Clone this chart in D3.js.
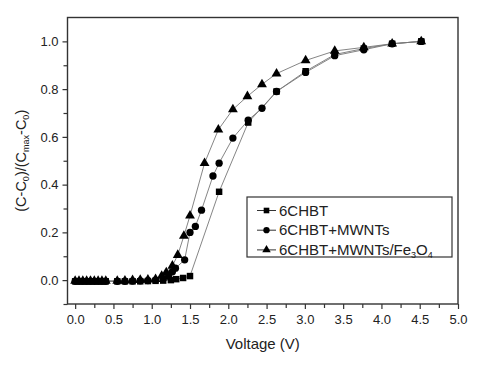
<!DOCTYPE html>
<html>
<head>
<meta charset="utf-8">
<script src="https://cdn.jsdelivr.net/npm/d3@7"></script>
<style>
  body { margin: 0; background: #fff; }
  svg { font-family: "Liberation Sans", Arial, sans-serif; }
</style>
</head>
<body>
<svg id="chart" width="484" height="367"></svg>
<script>
"use strict";

// data
var seriesNames = ["6CHBT", "6CHBT+MWNTs", "6CHBT+MWNTs/Fe3O4"];

var chbtV = [0, 0.05, 0.1, 0.15, 0.2, 0.25, 0.3, 0.35, 0.4, 0.55, 0.65, 0.75, 0.85, 0.95, 1.05, 1.15, 1.25, 1.32, 1.41, 1.5, 1.88, 2.26, 2.63, 3.01, 3.39, 3.77, 4.14, 4.52];
var chbtC = [-0.005, -0.005, -0.005, -0.005, -0.005, -0.005, -0.005, -0.005, -0.005, -0.005, -0.005, -0.005, -0.005, -0.004, -0.003, -0.002, 0.0, 0.004, 0.009, 0.017, 0.37, 0.66, 0.79, 0.875, 0.945, 0.97, 0.99, 1.0];

var mwntV = [0, 0.05, 0.1, 0.15, 0.2, 0.25, 0.3, 0.35, 0.4, 0.55, 0.65, 0.75, 0.85, 0.95, 1.05, 1.15, 1.22, 1.27, 1.31, 1.43, 1.5, 1.57, 1.65, 1.8, 1.88, 2.06, 2.26, 2.44, 2.63, 3.01, 3.39, 3.77, 4.14, 4.52];
var mwntC = [-0.005, -0.005, -0.005, -0.005, -0.005, -0.005, -0.005, -0.005, -0.005, -0.005, -0.005, -0.004, -0.003, -0.002, 0.0, 0.006, 0.016, 0.035, 0.05, 0.085, 0.2, 0.225, 0.293, 0.436, 0.49, 0.595, 0.67, 0.72, 0.79, 0.87, 0.94, 0.965, 0.99, 1.0];

var feV = [0, 0.05, 0.1, 0.15, 0.2, 0.25, 0.3, 0.35, 0.4, 0.55, 0.65, 0.75, 0.85, 0.95, 1.05, 1.13, 1.19, 1.27, 1.34, 1.42, 1.5, 1.69, 1.87, 2.06, 2.25, 2.44, 2.63, 3.01, 3.39, 3.77, 4.14, 4.52];
var feC = [-0.003, -0.003, -0.003, -0.003, -0.003, -0.003, -0.003, -0.003, -0.003, -0.003, -0.002, 0.0, 0.001, 0.002, 0.004, 0.018, 0.032, 0.06, 0.105, 0.185, 0.27, 0.49, 0.63, 0.715, 0.77, 0.82, 0.865, 0.92, 0.96, 0.975, 0.99, 1.0];

var xMajorTicks = [0, 0.5, 1, 1.5, 2, 2.5, 3, 3.5, 4, 4.5, 5];
var yMajorTicks = [0, 0.2, 0.4, 0.6, 0.8, 1.0];

var svg = d3.select("#chart");
var plotL = 67.5, plotR = 458, plotT = 17.5, plotB = 304;

var x = d3.scaleLinear().domain([-0.1, 5.0]).range([plotL, plotR]);
var y = d3.scaleLinear().domain([-0.1, 1.1]).range([plotB, plotT]);

function zip(vs, cs){
	return vs.map(function(v, i){ return {v: v, c: cs[i]}; });
}
var series = [
	{name: seriesNames[0], pts: zip(chbtV, chbtC), shape: d3.symbolSquare, size: 42},
	{name: seriesNames[1], pts: zip(mwntV, mwntC), shape: d3.symbolCircle, size: 42},
	{name: seriesNames[2], pts: zip(feV, feC), shape: d3.symbolTriangle, size: 42}
];

// frame
svg.append("rect")
	.attr("x", plotL).attr("y", plotT)
	.attr("width", plotR - plotL).attr("height", plotB - plotT)
	.style("fill", "none").style("stroke", "#333").style("stroke-width", 1.4);

// x axis: majors labelled, minors in between, ticks outward
svg.append("g").attr("transform", "translate(0," + plotB + ")")
	.call(d3.axisBottom(x).tickValues(xMajorTicks).tickFormat(d3.format(".1f")).tickSize(5).tickPadding(6));
svg.append("g").attr("transform", "translate(0," + plotB + ")")
	.call(d3.axisBottom(x).tickValues(d3.range(0.25, 5, 0.5)).tickFormat("").tickSize(4));

svg.append("g").attr("transform", "translate(" + plotL + ",0)")
	.call(d3.axisLeft(y).tickValues(yMajorTicks).tickFormat(d3.format(".1f")).tickSize(5).tickPadding(4));
svg.append("g").attr("transform", "translate(" + plotL + ",0)")
	.call(d3.axisLeft(y).tickValues([-0.1, 0.1, 0.3, 0.5, 0.7, 0.9]).tickFormat("").tickSize(4));

svg.selectAll(".domain").remove();
svg.selectAll(".tick line").style("stroke", "#333").style("stroke-width", 1.2);
svg.selectAll(".tick text").style("font-size", "13px").style("fill", "#222")
	.style("font-family", "'Liberation Sans', Arial, sans-serif");

// axis titles
svg.append("text")
	.attr("x", (plotL + plotR) / 2).attr("y", 349)
	.attr("text-anchor", "middle")
	.style("font-size", "15px").style("fill", "#222")
	.text("Voltage (V)");

var yTitle = svg.append("text")
	.attr("transform", "translate(26," + ((plotT + plotB) / 2) + ") rotate(-90)")
	.attr("text-anchor", "middle")
	.style("font-size", "14.5px").style("fill", "#222");
yTitle.append("tspan").text("(C-C");
yTitle.append("tspan").attr("baseline-shift", "-30%").style("font-size", "9px").text("0");
yTitle.append("tspan").text(")/(C");
yTitle.append("tspan").attr("baseline-shift", "-30%").style("font-size", "9px").text("max");
yTitle.append("tspan").text("-C");
yTitle.append("tspan").attr("baseline-shift", "-30%").style("font-size", "9px").text("0");
yTitle.append("tspan").text(")");

// lines and markers
var line = d3.line().x(function(d){ return x(d.v); }).y(function(d){ return y(d.c); });

series.forEach(function(s){
	svg.append("path")
		.datum(s.pts)
		.attr("d", line)
		.style("fill", "none").style("stroke", "#777").style("stroke-width", 0.9);
});
series.forEach(function(s){
	svg.append("g").selectAll("path")
		.data(s.pts)
		.enter()
		.append("path")
		.attr("d", d3.symbol().type(s.shape).size(s.size))
		.attr("transform", function(d){ return "translate(" + x(d.v) + "," + y(d.c) + ")"; })
		.style("fill", "#000");
});

// legend
var legend = svg.append("g");
legend.append("rect")
	.attr("x", 247).attr("y", 197).attr("width", 205).attr("height", 60)
	.style("fill", "#fff").style("stroke", "#333").style("stroke-width", 1.2);

series.forEach(function(s, i){
	var ly = 210.5 + i * 19.7;
	legend.append("line")
		.attr("x1", 257).attr("x2", 276).attr("y1", ly).attr("y2", ly)
		.style("stroke", "#333").style("stroke-width", 1);
	legend.append("path")
		.attr("d", d3.symbol().type(s.shape).size(s.size * 0.75))
		.attr("transform", "translate(266.5," + ly + ")")
		.style("fill", "#000");
	var t = legend.append("text")
		.attr("x", 279).attr("y", ly + 5)
		.style("font-size", "15px").style("fill", "#222");
	if(i < 2){
		t.text(s.name);
	} else {
		t.append("tspan").text("6CHBT+MWNTs/Fe");
		t.append("tspan").attr("baseline-shift", "-35%").style("font-size", "9px").text("3");
		t.append("tspan").text("O");
		t.append("tspan").attr("baseline-shift", "-35%").style("font-size", "9px").text("4");
	}
});
</script>
</body>
</html>
